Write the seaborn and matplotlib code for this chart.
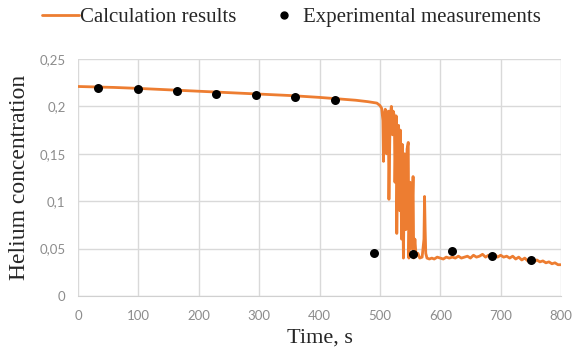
import matplotlib
matplotlib.use("Agg")
import matplotlib.pyplot as plt
import seaborn as sns
import pandas as pd
from matplotlib.lines import Line2D

# ---- data ----
calc_time = [0, 30, 60, 100, 150, 200, 250, 300, 350, 400, 430, 460, 480, 495,
             500, 503, 505, 506, 507, 509, 511, 512, 514, 515, 517, 519, 521, 522,
             524, 525, 527, 528, 530, 531, 533, 534, 536, 537, 539, 541, 543, 545,
             547, 548, 550, 552, 555, 556, 558, 560, 563, 566, 570, 573, 574, 575,
             576, 578, 582, 586, 590, 595, 600, 605, 610, 615, 620, 625, 630, 635,
             640, 645, 650, 655, 660, 665, 670, 675, 680, 685, 690, 695, 700, 705,
             710, 715, 720, 725, 730, 735, 740, 745, 750, 755, 760, 765, 770, 775,
             780, 785, 790, 795, 800]
calc_conc = [0.221, 0.2205, 0.220, 0.219, 0.2175, 0.216, 0.2145, 0.213, 0.2115, 0.2095,
             0.208, 0.2065, 0.205, 0.2035, 0.201, 0.198, 0.185, 0.142, 0.190, 0.197,
             0.150, 0.190, 0.195, 0.102, 0.190, 0.200, 0.170, 0.195, 0.190, 0.120,
             0.190, 0.066, 0.170, 0.180, 0.090, 0.175, 0.060, 0.160, 0.040, 0.150,
             0.070, 0.155, 0.162, 0.040, 0.120, 0.050, 0.126, 0.040, 0.060, 0.042,
             0.045, 0.040, 0.041, 0.060, 0.105, 0.070, 0.045, 0.040, 0.039, 0.040,
             0.039, 0.041, 0.040, 0.039, 0.041, 0.040, 0.041, 0.040, 0.042, 0.040,
             0.041, 0.042, 0.040, 0.043, 0.041, 0.042, 0.044, 0.041, 0.043, 0.042,
             0.044, 0.041, 0.043, 0.041, 0.042, 0.040, 0.042, 0.039, 0.041, 0.038,
             0.040, 0.037, 0.039, 0.036, 0.038, 0.036, 0.037, 0.035, 0.036, 0.034,
             0.035, 0.033, 0.033]

exp_time = [33, 99, 164, 229, 295, 360, 425, 490, 555, 620, 686, 750]
exp_conc = [0.219, 0.218, 0.216, 0.2135, 0.212, 0.210, 0.2066, 0.045, 0.0445,
            0.047, 0.0417, 0.0375]

x_ticks = [0, 100, 200, 300, 400, 500, 600, 700, 800]
y_ticks = [0, 0.05, 0.1, 0.15, 0.2, 0.25]
y_tick_labels = ["0", "0,05", "0,1", "0,15", "0,2", "0,25"]

calc_df = pd.DataFrame({"t": calc_time, "c": calc_conc})
exp_df = pd.DataFrame({"t": exp_time, "c": exp_conc})

sns.set_style("white")
plt.rcParams["font.family"] = ["Liberation Serif", "DejaVu Serif"]

orange = "#ED7D31"
fig = plt.figure(figsize=(5.74, 3.56), dpi=100)
ax = fig.add_axes([78 / 574, 60 / 356, 483 / 574, 237 / 356])

sns.lineplot(data=calc_df, x="t", y="c", ax=ax, color=orange, linewidth=2.0,
             sort=False, estimator=None, legend=False, zorder=3)
sns.scatterplot(data=exp_df, x="t", y="c", ax=ax, color="black", s=42,
                edgecolor="black", linewidth=0, legend=False, zorder=4)

ax.set_xlim(0, 800)
ax.set_ylim(0, 0.25)
ax.set_xticks(x_ticks)
ax.set_xticklabels([str(v) for v in x_ticks])
ax.set_yticks(y_ticks)
ax.set_yticklabels(y_tick_labels)
ax.grid(True, color="#d9d9d9", linewidth=1.0)
ax.set_axisbelow(True)
for s in ["top", "right", "left"]:
    ax.spines[s].set_visible(False)
ax.spines["bottom"].set_color("#d0d0d0")
ax.tick_params(axis="x", length=0, labelsize=9.5, labelcolor="#8c8c8c", pad=10)
ax.tick_params(axis="y", length=0, labelsize=9.5, labelcolor="#8c8c8c", pad=9)
for lab in ax.get_xticklabels() + ax.get_yticklabels():
    lab.set_family(["Lato", "DejaVu Sans"])

ax.set_xlabel("Time, s", fontsize=16, labelpad=5)
ax.set_ylabel("Helium concentration", fontsize=17, labelpad=7)

handles = [Line2D([0], [0], color=orange, linewidth=2.0),
           Line2D([0], [0], color="black", marker="o", linestyle="none", markersize=5)]
fig.legend(handles, ["Calculation results", "Experimental measurements"],
           loc="center", bbox_to_anchor=(0.508, 0.952), ncol=2, frameon=False,
           fontsize=15, handlelength=1.8, handletextpad=0.05, columnspacing=1.35)

fig.savefig("out.png", dpi=100)
